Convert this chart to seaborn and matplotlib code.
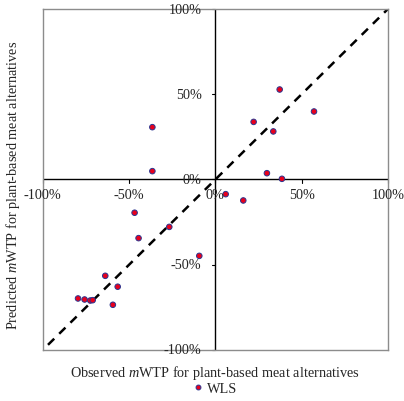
import matplotlib
matplotlib.use("Agg")
import matplotlib.pyplot as plt
import seaborn as sns
import pandas as pd

observed = [37.3, 57.2, 22.2, 33.6, 29.9, 38.6, -36.5, -36.5, 6.0, 16.2, -46.8, -26.7,
            -44.5, -9.3, -63.8, -56.6, -79.6, -75.8, -72.5, -71.1, -59.4]
predicted = [52.8, 39.9, 33.8, 28.2, 3.7, 0.4, 30.7, 4.9, -8.6, -12.3, -19.5, -27.8,
             -34.4, -44.8, -56.5, -62.9, -69.8, -70.4, -71.0, -70.8, -73.5]
series = ["WLS"] * len(observed)
ticks = [-100, -50, 0, 50, 100]
tick_labels = ["-100%", "-50%", "0%", "50%", "100%"]

df = pd.DataFrame({"obs": observed, "pred": predicted, "model": series})

sns.set_style("white")
plt.rcParams["font.family"] = ["Liberation Serif", "DejaVu Serif"]
plt.rcParams["mathtext.fontset"] = "custom"
plt.rcParams["mathtext.it"] = "Liberation Serif:italic"
plt.rcParams["mathtext.rm"] = "Liberation Serif"

fig = plt.figure(figsize=(4.04, 4.02), dpi=100)
ax = fig.add_axes([0.106, 0.127, 0.854, 0.848])

ax.plot([-97, 100], [-97, 100], color="black", linestyle=(0, (3.5, 2.8)), linewidth=1.8, zorder=1)
sns.scatterplot(data=df, x="obs", y="pred", hue="model", palette={"WLS": "#e8001c"},
                marker="o", s=16, edgecolor="#2a3590", linewidth=0.7, ax=ax, zorder=3,
                legend=False)

ax.set_xlim(-100, 100)
ax.set_ylim(-100, 100)
for s in ax.spines.values():
    s.set_color("#8c8c8c")
    s.set_linewidth(1.0)
ax.axhline(0, color="black", linewidth=1.0, zorder=2)
ax.axvline(0, color="black", linewidth=1.0, zorder=2)
ax.set_xticks([])
ax.set_yticks([])

fs = 10.3
for t, lab in zip(ticks, tick_labels):
    ax.text(t, -5, lab, ha="center", va="top", fontsize=fs, clip_on=False)
    ax.text(-8, t, lab, ha="right", va="center", fontsize=fs, clip_on=False)
    ax.plot([t, t], [0, -2], color="black", linewidth=0.8, clip_on=False)
    ax.plot([0, -2], [t, t], color="black", linewidth=0.8, clip_on=False)

ax.set_xlabel("Observed $m$WTP for plant-based meat alternatives", fontsize=fs)
ax.xaxis.set_label_coords(0.5, -0.038, transform=ax.transAxes)
ax.xaxis.label.set_va("top")
ax.set_ylabel("Predicted $m$WTP for plant-based meat alternatives", fontsize=fs)
ax.yaxis.set_label_coords(-0.085, 0.485)
ax.yaxis.label.set_va("center")

handle = plt.Line2D([], [], marker="o", linestyle="", markersize=3.5,
                    markerfacecolor="#e8001c", markeredgecolor="#2a3590", markeredgewidth=0.7)
fig.legend([handle], series[:1], loc="center", bbox_to_anchor=(0.53, 0.031), frameon=False,
           fontsize=fs, handletextpad=0.1, handlelength=1.0, borderpad=0.0)

fig.savefig("out.png", dpi=100)
